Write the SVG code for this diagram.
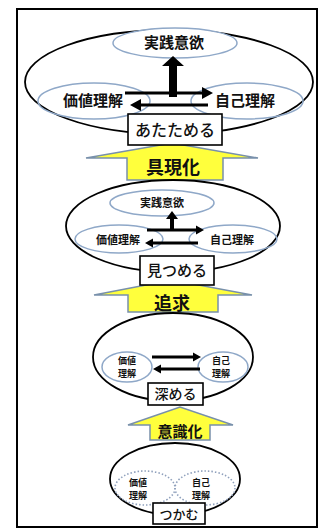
<svg xmlns="http://www.w3.org/2000/svg" width="321" height="528" viewBox="0 0 321 528">
<style>
.big{fill:none;stroke:#000;stroke-width:1.8}
.in{fill:#fff;stroke:#8fa8c8;stroke-width:1.5}
.inn{fill:none;stroke:#8fa8c8;stroke-width:1.5}
.dot{fill:none;stroke:#8fa0bc;stroke-width:1.6;stroke-dasharray:1.5 2}
.box{fill:#fff;stroke:#000;stroke-width:1.6}
.ya{fill:#ffff3c;stroke:#7890ab;stroke-width:1.5}
.t{font-family:"Noto Sans CJK JP","Noto Sans CJK SC",sans-serif;font-weight:700;fill:#111;text-anchor:middle}
.bt{font-family:"Noto Sans CJK JP","Noto Sans CJK SC",sans-serif;font-weight:500;fill:#111;text-anchor:middle}
.ar{fill:#000;stroke:none}
</style>
<rect x="17" y="9" width="300" height="518" fill="#fff" stroke="#000" stroke-width="2"/>

<g id="stage1">
<ellipse class="big" cx="169" cy="82" rx="144" ry="52"/>
<ellipse class="in" cx="175" cy="43" rx="62" ry="15"/>
<ellipse class="inn" cx="94" cy="101" rx="56" ry="18"/>
<ellipse class="inn" cx="247" cy="101" rx="56" ry="18"/>
<text class="t" x="174" y="48" font-size="15">実践意欲</text>
<text class="t" x="93" y="106" font-size="15">価値理解</text>
<text class="t" x="245" y="106" font-size="15">自己理解</text>
</g>

<g id="arrow1"><path class="ya" d="M127,180 V158 H86 L172,143 L258,158 H223 V180 Z"/><text class="t" x="173" y="174" font-size="18">具現化</text></g>
<g id="box1"><rect class="box" x="128" y="114" width="94" height="31"/><text class="bt" x="175" y="136" font-size="16">あたためる</text></g>

<g id="stage2">
<ellipse class="big" cx="173" cy="226" rx="107" ry="46"/>
<ellipse class="in" cx="162" cy="203" rx="52" ry="13"/>
<ellipse class="inn" cx="119" cy="239" rx="44" ry="14"/>
<ellipse class="inn" cx="233" cy="239" rx="44" ry="14"/>
<text class="t" x="162" y="207" font-size="11">実践意欲</text>
<text class="t" x="118" y="244" font-size="11">価値理解</text>
<text class="t" x="232" y="244" font-size="11">自己理解</text>
</g>

<g id="arrow2"><path class="ya" d="M128,312 V295 H94 L172,280 L252,295 H218 V312 Z"/><text class="t" x="172" y="310" font-size="18">追求</text></g>
<g id="box2"><rect class="box" x="140" y="256" width="74" height="29"/><text class="bt" x="177" y="276" font-size="15">見つめる</text></g>

<g id="stage3">
<ellipse class="big" cx="173" cy="357" rx="80" ry="44"/>
<ellipse class="inn" cx="127" cy="367" rx="25" ry="15"/>
<ellipse class="inn" cx="223" cy="367" rx="25" ry="15"/>
<text class="t" x="127" y="364" font-size="9">価値</text>
<text class="t" x="127" y="377" font-size="9">理解</text>
<text class="t" x="221" y="364" font-size="9">自己</text>
<text class="t" x="221" y="377" font-size="9">理解</text>
</g>

<g id="arrow3"><path class="ya" d="M150,440 V425 H128 L180,407 L233,425 H210 V440 Z"/><text class="t" x="180" y="437" font-size="15">意識化</text></g>
<g id="box3"><rect class="box" x="148" y="383" width="55" height="22"/><text class="bt" x="175.5" y="399" font-size="14">深める</text></g>

<g id="stage4">
<ellipse class="big" cx="175" cy="479" rx="65" ry="36"/>
<ellipse class="dot" cx="145" cy="488" rx="30" ry="17"/>
<ellipse class="dot" cx="205" cy="488" rx="30" ry="17"/>
<text class="t" x="138" y="486" font-size="9">価値</text>
<text class="t" x="138" y="499" font-size="9">理解</text>
<text class="t" x="201" y="486" font-size="9">自己</text>
<text class="t" x="201" y="499" font-size="9">理解</text>
</g>
<g id="box4"><rect class="box" x="153" y="503" width="52" height="21"/><text class="bt" x="179" y="519" font-size="13">つかむ</text></g>

<g id="connectors">
<path class="ar" d="M169,97 V66 H162 L173,56 L184,66 H177 V97 Z"/>
<path class="ar" d="M125,91.5 H202 V87 L213,93 L202,99 V94.5 H125 Z"/>
<path class="ar" d="M208,103.5 H141 V99 L130,105 L141,111 V106.5 H208 Z"/>
<path class="ar" d="M170,229 V219 H166 L172,211 L178,219 H174 V229 Z"/>
<path class="ar" d="M147,228.5 H196 V225.5 L204,230 L196,234.5 V231.5 H147 Z"/>
<path class="ar" d="M198,241.5 H153 V238.5 L145,243 L153,247.5 V244.5 H198 Z"/>
<path class="ar" d="M152,355.5 H193 V352.5 L201,357 L193,361.5 V358.5 H152 Z"/>
<path class="ar" d="M200,367.5 H161 V364.5 L153,369 L161,373.5 V370.5 H200 Z"/>
</g>
</svg>
